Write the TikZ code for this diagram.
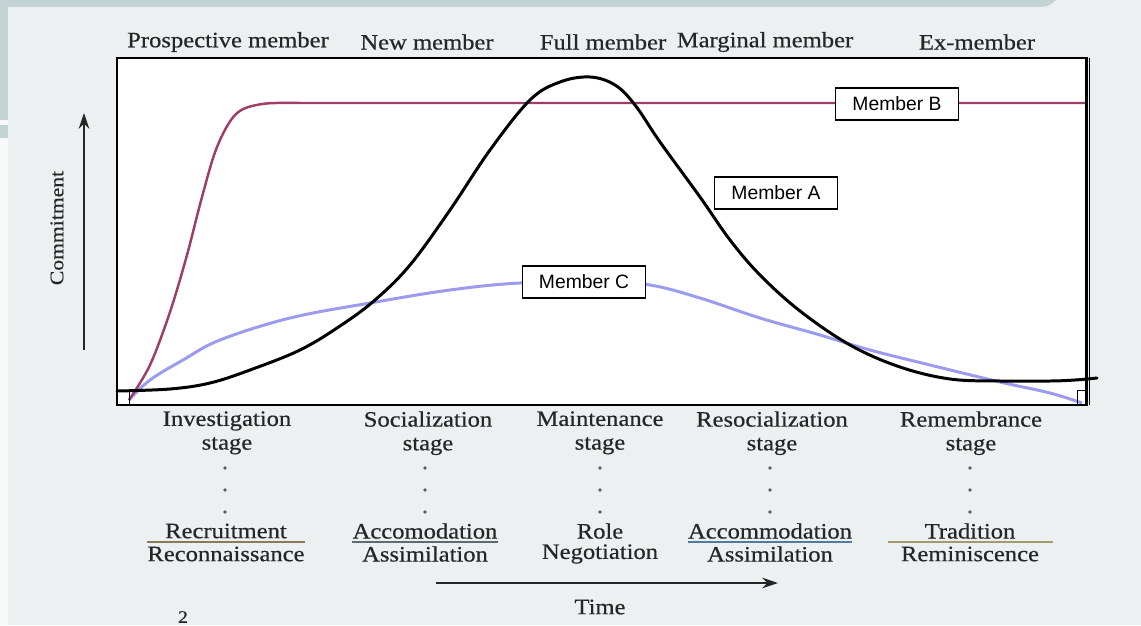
\documentclass[tikz,border=0pt]{standalone}
\usepackage{fontspec}
\setmainfont[FakeStretch=1.12,FakeBold=0.5]{Liberation Serif}
\newfontfamily\labelsans{Liberation Sans}
\usetikzlibrary{arrows.meta}
\definecolor{paper}{HTML}{EDF0F0}
\definecolor{band}{HTML}{C4D3D3}
\definecolor{ink}{HTML}{262626}
\definecolor{memB}{HTML}{9E3D68}
\definecolor{memC}{HTML}{9C9CEE}
\definecolor{lnRecruit}{HTML}{8A7B58}
\definecolor{lnAccA}{HTML}{5F6B72}
\definecolor{lnAccB}{HTML}{4F7C9E}
\definecolor{lnTrad}{HTML}{A39B6C}
\begin{document}
\begin{tikzpicture}[x=0.02cm,y=-0.02cm,
  phase/.style={font=\fontsize{12.5}{13.5}\selectfont, text=ink, inner sep=0pt},
  stagelbl/.style={phase, align=center},
  dotmark/.style={circle, fill=ink!75, inner sep=0pt, minimum size=2.2pt},
  member/.style={draw=black, line width=0.6pt, fill=white, text=black,
    font=\labelsans\fontsize{11}{12}\selectfont,
    minimum width=2.46cm, minimum height=0.64cm, inner sep=0pt},
  curveA/.style={line width=1.7pt, black, line join=round, line cap=round},
  curveB/.style={line width=1.4pt, memB, line join=round},
  curveC/.style={line width=1.7pt, memC, line join=round},
  fracline/.style={line width=1.1pt},
  axisarrow/.style={line width=0.8pt, ink, -{Stealth[length=9pt,width=6pt]}}]
\useasboundingbox (0,0) rectangle (1141,625);

% paper and slide decoration
\fill[paper] (0,0) rectangle (1141,625);
\fill[band] (0,0) -- (1056,0) .. controls (1048,7) .. (1030,7) -- (0,7) -- cycle;
\fill[band] (0,0) rectangle (8,120);
\fill[white!60!paper] (0,120) rectangle (8,625);
\fill[band] (0,125) rectangle (8,138);

% plot area
\fill[white] (117,58) rectangle (1086,405);

% Member C
\draw[curveC] plot[smooth, tension=0.6] coordinates {
  (129,400) (150,380) (183,360) (220,340) (290,318) (370,303) (450,290)
  (520,283) (600,282) (650,285) (700,298) (760,318) (820,335) (870,350)
  (930,365) (1000,382) (1050,393) (1082,403)};
% Member B
\draw[curveB] plot[smooth, tension=0.55] coordinates {
  (129,400) (150,365) (170,312) (187,255) (202,197) (217,147) (236,114)
  (262,104) (300,103)} -- (1086,103);
% Member A
\draw[curveA] plot[smooth, tension=0.6] coordinates {
  (117,391) (170,389) (210,383) (250,370) (300,350) (340,326) (375,300)
  (410,265) (450,210) (490,150) (530,100) (560,82) (590,77) (615,85)
  (635,105) (660,142) (700,197) (730,240) (760,275) (800,311) (850,345)
  (900,367) (950,379) (1000,381) (1050,381) (1075,380) (1097,378)};

% frame
\draw[line width=1.7pt] (117,58) rectangle (1086,405);
\draw[line width=0.7pt] (1089.5,58) -- (1089.5,405);
\draw[line width=0.5pt] (129,392) -- (129,405);
\draw[line width=0.5pt] (1077,390) rectangle (1086,405);

% curve labels
\node[member] (mB) at (897,104) {Member B};
\node[member] (mA) at (776,193) {Member A};
\node[member] (mC) at (584,282) {Member C};

% membership roles
\node[phase] (r1) at (228,42) {Prospective member};
\node[phase] (r2) at (427,42) {New member};
\node[phase] (r3) at (603,42) {Full member};
\node[phase] (r4) at (765,42) {Marginal member};
\node[phase] (r5) at (977,42) {Ex-member};

% stages
\node[stagelbl, anchor=north] (s1) at (227,411) {Investigation\\stage};
\node[stagelbl, anchor=north] (s2) at (428,411) {Socialization\\stage};
\node[stagelbl, anchor=north] (s3) at (600,411) {Maintenance\\stage};
\node[stagelbl, anchor=north] (s4) at (772,411) {Resocialization\\stage};
\node[stagelbl, anchor=north] (s5) at (971,411) {Remembrance\\stage};

% dotted links
\foreach \xx/\nm in {225/a,425/b,600/c,770/d,970/e}{
  \node[dotmark] (\nm1) at (\xx,468) {};
  \node[dotmark] (\nm2) at (\xx,490) {};
  \node[dotmark] (\nm3) at (\xx,512) {};
}

% transitions
\node[phase] (t1a) at (226,531) {Recruitment};
\node[phase] (t1b) at (226,554) {Reconnaissance};
\node[phase] (t2a) at (425,531) {Accomodation};
\node[phase] (t2b) at (425,554) {Assimilation};
\node[phase] (t3a) at (600,531) {Role};
\node[phase] (t3b) at (600,554) {Negotiation};
\node[phase] (t4a) at (770,531) {Accommodation};
\node[phase] (t4b) at (770,554) {Assimilation};
\node[phase] (t5a) at (970,531) {Tradition};
\node[phase] (t5b) at (970,554) {Reminiscence};
\coordinate (l1a) at (147,542); \coordinate (l1b) at (305,542);
\coordinate (l2a) at (352,542); \coordinate (l2b) at (498,542);
\coordinate (l4a) at (688,542); \coordinate (l4b) at (852,542);
\coordinate (l5a) at (888,542); \coordinate (l5b) at (1053,542);
\draw[fracline, lnRecruit] (l1a) -- (l1b);
\draw[fracline, lnAccA] (l2a) -- (l2b);
\draw[fracline, lnAccB] (l4a) -- (l4b);
\draw[fracline, lnTrad] (l5a) -- (l5b);

% axes
\coordinate (c0) at (84,350); \coordinate (c1) at (84,113);
\draw[axisarrow] (c0) -- (c1);
\node[font=\fontsize{11}{12}\selectfont, text=ink, rotate=90, inner sep=0pt] (cm) at (57,228) {Commitment};
\coordinate (tm0) at (436,583); \coordinate (tm1) at (778,583);
\draw[axisarrow] (tm0) -- (tm1);
\node[phase] (tm) at (600,607) {Time};

\node[font=\fontsize{10}{10}\selectfont, text=ink, inner sep=0pt] (pg) at (183,617) {2};
\end{tikzpicture}
\end{document}
